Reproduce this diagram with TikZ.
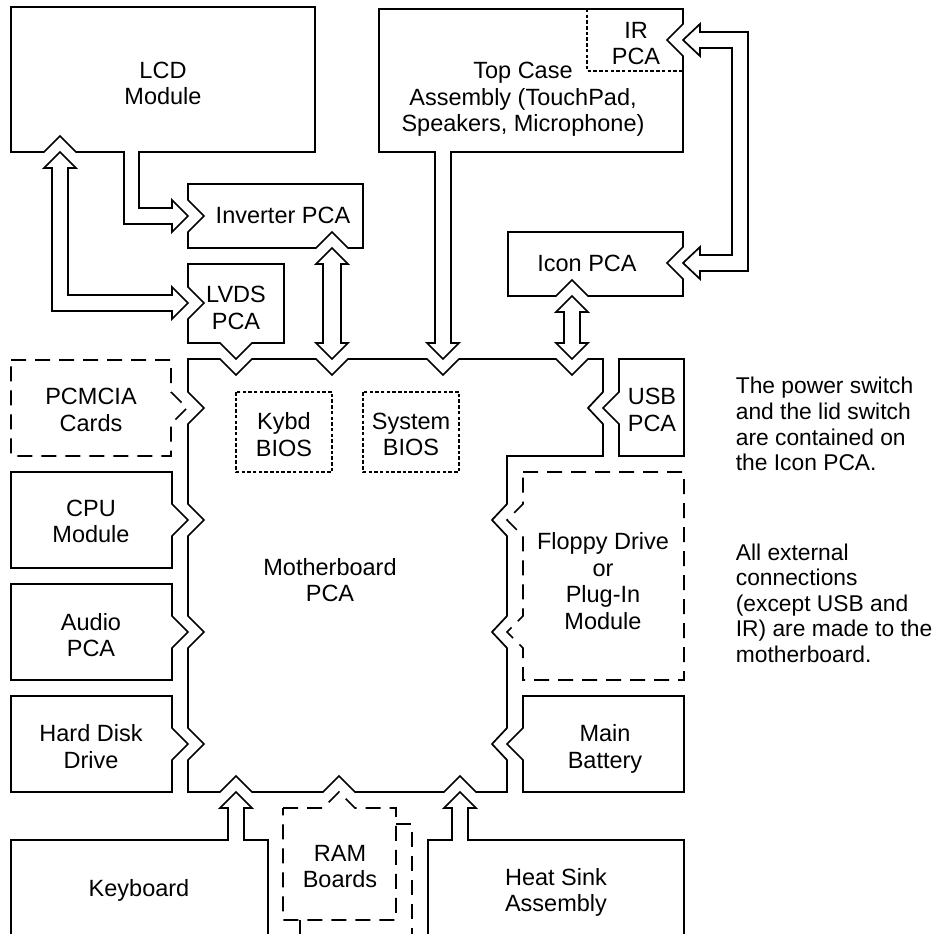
\documentclass[tikz,border=0pt]{standalone}
\usepackage{fontspec}
\setmainfont{Liberation Sans}
\begin{document}
\begin{tikzpicture}[x=1pt,y=-1pt,line width=1.7pt,line join=miter,
  box/.style={draw=black},
  dbox/.style={draw=black,dash pattern=on 15pt off 9pt},
  dotbox/.style={draw=black,line width=1.3pt,dash pattern=on 3.5pt off 2.2pt},
  lbl/.style={font=\fontsize{23.5}{26.5}\selectfont,align=center,inner sep=0pt,yshift=-3.5pt,
    execute at begin node={\rule[-7pt]{0pt}{24pt}},
    execute at end node={\rule[-7pt]{0pt}{24pt}}},
  note/.style={lbl,font=\fontsize{22.8}{25.6}\selectfont,align=left,anchor=west}]
\clip (0,0) rectangle (946,934);
% LCD module with exit arrow to inverter
\draw[box] (139,152) -- (315,152) -- (315,7) -- (11,7) -- (11,152) -- (44,152) -- (60,136) -- (76,152) -- (124,152)
  -- (124,224) -- (172,224) -- (172,232) -- (188,216) -- (172,200) -- (172,208) -- (139,208) -- cycle;
% LCD <-> LVDS double arrow
\draw[box] (60,152) -- (76,168) -- (68,168) -- (68,295) -- (172,295) -- (172,287) -- (188,303) -- (172,319) -- (172,311)
  -- (52,311) -- (52,168) -- (44,168) -- cycle;
% Inverter PCA
\draw[box] (188,184) -- (363,184) -- (363,248) -- (348,248) -- (332,232) -- (316,248) -- (188,248) -- (188,232) -- (204,216) -- (188,200) -- cycle;
% Inverter <-> MB
\draw[box] (332,248) -- (348,264) -- (341,264) -- (341,343) -- (348,343) -- (332,359) -- (316,343) -- (323,343) -- (323,264) -- (316,264) -- cycle;
% LVDS PCA
\draw[box] (188,264) -- (284,264) -- (284,343) -- (252,343) -- (236,359) -- (220,343) -- (188,343) -- (188,319) -- (204,303) -- (188,287) -- cycle;
% Top case assembly with arrow to MB
\draw[box] (451,152) -- (683,152) -- (683,56) -- (667,40) -- (683,24) -- (683,9) -- (379,9) -- (379,152) -- (435,152)
  -- (435,343) -- (427,343) -- (443,359) -- (459,343) -- (451,343) -- cycle;
% IR PCA
\draw[dotbox] (587,9) -- (587,71) -- (683,71);
% IR <-> Icon
\draw[box] (683,40) -- (700,24) -- (700,32) -- (748,32) -- (748,271) -- (700,271) -- (700,279) -- (683,263) -- (700,247)
  -- (700,255) -- (732,255) -- (732,48) -- (700,48) -- (700,56) -- cycle;
% Icon PCA
\draw[box] (508,232) -- (683,232) -- (683,247) -- (667,263) -- (683,279) -- (683,296) -- (588,296) -- (572,280) -- (556,296) -- (508,296) -- cycle;
% Icon <-> MB
\draw[box] (572,296) -- (588,312) -- (580,312) -- (580,343) -- (588,343) -- (572,359) -- (556,343) -- (564,343) -- (564,312) -- (556,312) -- cycle;
% Motherboard
\draw[box] (188,359) -- (220,359) -- (236,375) -- (252,359) -- (316,359) -- (332,375) -- (348,359) -- (427,359) -- (443,375) -- (459,359)
  -- (556,359) -- (572,375) -- (588,359) -- (603,359) -- (603,392) -- (588,408) -- (603,424) -- (603,456) -- (507,456)
  -- (507,504) -- (492,520) -- (507,536) -- (507,616) -- (492,632) -- (507,648) -- (507,728) -- (492,744) -- (507,760)
  -- (507,792) -- (476,792) -- (460,776) -- (444,792) -- (355,792) -- (339,776) -- (323,792) -- (252,792) -- (236,776) -- (220,792)
  -- (188,792) -- (188,760) -- (204,744) -- (188,728) -- (188,648) -- (204,632) -- (188,616) -- (188,536) -- (204,520) -- (188,504)
  -- (188,424) -- (204,408) -- (188,392) -- cycle;
% USB PCA
\draw[box] (619,359) -- (684,359) -- (684,456) -- (619,456) -- (619,424) -- (603,408) -- (619,392) -- cycle;
% left column
\draw[dbox] (11,360) -- (171,360) -- (171,392) -- (187,408) -- (171,424) -- (171,456) -- (11,456) -- cycle;
\draw[box] (11,472) -- (172,472) -- (172,504) -- (188,520) -- (172,536) -- (172,568) -- (11,568) -- cycle;
\draw[box] (11,584) -- (172,584) -- (172,616) -- (188,632) -- (172,648) -- (172,680) -- (11,680) -- cycle;
\draw[box] (11,696) -- (172,696) -- (172,728) -- (188,744) -- (172,760) -- (172,792) -- (11,792) -- cycle;
% right column
\draw[dbox] (523,472) -- (684,472) -- (684,680) -- (523,680) -- (523,648) -- (507,632) -- (523,616) -- (523,536) -- (507,520) -- (523,504) -- cycle;
\draw[box] (523,696) -- (684,696) -- (684,792) -- (523,792) -- (523,760) -- (507,744) -- (523,728) -- cycle;
% BIOS
\draw[dotbox] (236,392) rectangle (332,472);
\draw[dotbox] (363,392) rectangle (459,472);
% bottom row
\draw[box] (11,945) -- (11,840) -- (228,840) -- (228,808) -- (220,808) -- (236,792) -- (252,808) -- (244,808) -- (244,840) -- (268,840) -- (268,945);
\draw[dbox] (283,808) -- (323,808) -- (339,792) -- (355,808) -- (396,808) -- (396,920) -- (283,920) -- cycle;
\draw[dbox] (396,824) -- (412,824) -- (412,945);
\draw[dbox] (300,920) -- (300,945);
\draw[box] (428,945) -- (428,840) -- (452,840) -- (452,808) -- (444,808) -- (460,792) -- (476,808) -- (468,808) -- (468,840) -- (684,840) -- (684,945);
% labels
\node[lbl] (lcd) at (163,83.5) {LCD\\Module};
\node[lbl] (inv) at (283,215) {Inverter PCA};
\node[lbl] (lvds) at (236,308) {LVDS\\PCA};
\node[lbl] (top) at (523,97) {Top Case\\Assembly (TouchPad,\\Speakers, Microphone)};
\node[lbl] (ir) at (636,43.5) {IR\\PCA};
\node[lbl] (icon) at (587,263) {Icon PCA};
\node[lbl] (pcm) at (91,410) {PCMCIA\\Cards};
\node[lbl] (cpu) at (91,521.5) {CPU\\Module};
\node[lbl] (aud) at (91,635) {Audio\\PCA};
\node[lbl] (hdd) at (91,746.5) {Hard Disk\\Drive};
\node[lbl] (kb) at (284,434.5) {Kybd\\BIOS};
\node[lbl] (sb) at (411,434.5) {System\\BIOS};
\node[lbl] (usb) at (652,410) {USB\\PCA};
\node[lbl] (mb) at (330,580) {Motherboard\\PCA};
\node[lbl] (fd) at (603,581) {Floppy Drive\\or\\Plug-In\\Module};
\node[lbl] (bat) at (605,746.5) {Main\\Battery};
\node[lbl] (key) at (139,888) {Keyboard};
\node[lbl] (ram) at (340,866.5) {RAM\\Boards};
\node[lbl] (heat) at (556,890) {Heat Sink\\Assembly};
\node[note] (n1) at (735,424) {The power switch\\and the lid switch\\are contained on\\the Icon PCA.};
\node[note] (n2) at (735,603) {All external\\connections\\(except USB and\\IR) are made to the\\motherboard.};
\end{tikzpicture}
\end{document}
